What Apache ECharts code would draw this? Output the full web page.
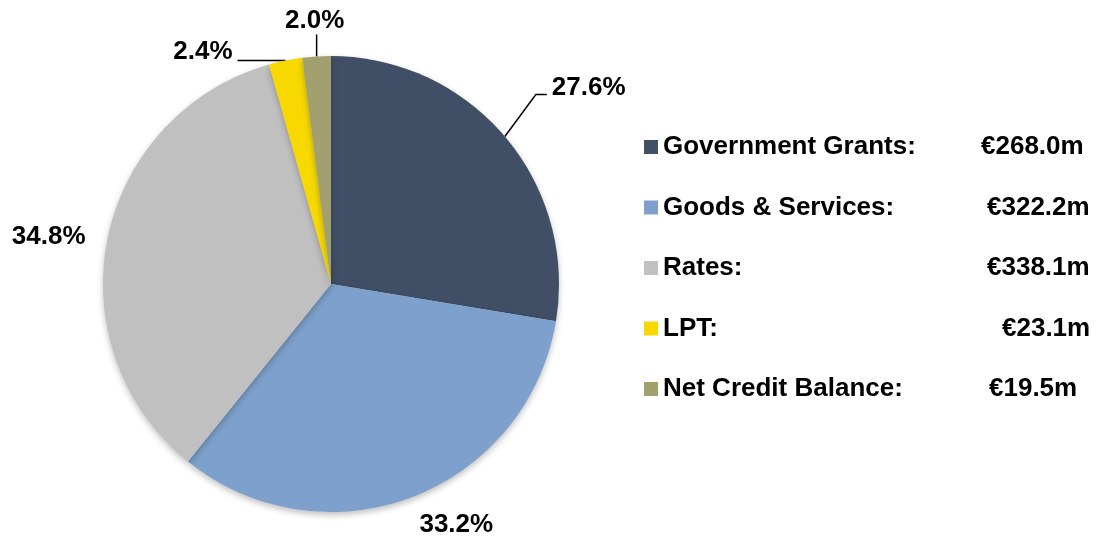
<!DOCTYPE html>
<html>
<head>
<meta charset="utf-8">
<script src="https://cdn.jsdelivr.net/npm/echarts@6/dist/echarts.min.js"></script>
<style>
html,body{margin:0;padding:0;background:#fff;}
#main{width:1101px;height:542px;}
</style>
</head>
<body>
<div id="main"></div>
<script>
// ---- data ----
const categories = ['Government Grants', 'Goods & Services', 'Rates', 'LPT', 'Net Credit Balance'];
const values = [268.0, 322.2, 338.1, 23.1, 19.5];          // € millions
const percentLabels = ['27.6%', '33.2%', '34.8%', '2.4%', '2.0%'];
const valueLabels = ['€268.0m', '€322.2m', '€338.1m', '€23.1m', '€19.5m'];

// ---- styles ----
const colors = ['#404f66', '#7da1cc', '#c0c0c0', '#f7d900', '#a3a070'];
const FONT = '"Liberation Sans", Arial, sans-serif';
// label placement relative to the slice edge point given by ECharts
const labelPlace = [
  { line: [[31, -42], [42, -42]], lbl: [47, -49], align: 'left' },
  { line: null, lbl: [44, 28], align: 'center' },
  { line: null, lbl: [-22, -2], align: 'right' },
  { line: [[-48, 0]], lbl: [-53, -9], align: 'right' },
  { line: [[0, -22]], lbl: [-2, -36], align: 'center' }
];
// legend name column widths per item
const nameWidths = [318, 324, 324, 339, 326];

const chart = echarts.init(document.getElementById('main'));
const rich = {};
nameWidths.forEach((w, i) => {
  rich['n' + i] = { width: w, fontSize: 26, fontWeight: 'bold', fontFamily: FONT, color: '#000' };
});
rich.v = { fontSize: 26, fontWeight: 'bold', fontFamily: FONT, color: '#000' };

chart.setOption({
  animation: false,
  backgroundColor: '#fff',
  color: colors,
  legend: {
    orient: 'vertical',
    left: 644,
    top: 132,
    padding: 0,
    itemWidth: 14,
    itemHeight: 14,
    itemGap: 30.5,
    icon: 'rect',
    selectedMode: false,
    textStyle: { fontSize: 26, fontWeight: 'bold', fontFamily: FONT, color: '#000', lineHeight: 30, rich: rich },
    formatter: function (name) {
      const i = categories.indexOf(name);
      return '{n' + i + '|' + name + ':}{v|' + valueLabels[i] + '}';
    },
    data: categories
  },
  series: [{
    type: 'pie',
    center: [331, 284],
    radius: 228,
    startAngle: 90,
    clockwise: true,
    avoidLabelOverlap: false,
    itemStyle: {
      shadowBlur: 6,
      shadowOffsetY: 3,
      shadowColor: 'rgba(0,0,0,0.25)'
    },
    label: {
      show: true,
      position: 'outside',
      fontSize: 26,
      fontWeight: 'bold',
      fontFamily: FONT,
      color: '#000',
      formatter: function (p) { return percentLabels[p.dataIndex]; }
    },
    labelLine: {
      show: true,
      length: 10,
      length2: 10,
      lineStyle: { color: '#000', width: 1.5 }
    },
    labelLayout: function (params) {
      const pl = labelPlace[params.dataIndex];
      const p0 = params.labelLinePoints[0];
      let linePts;
      if (pl.line) {
        linePts = [[p0[0], p0[1]]].concat(pl.line.map(d => [p0[0] + d[0], p0[1] + d[1]]));
        while (linePts.length < 3) linePts.push(linePts[linePts.length - 1].slice());
      } else {
        linePts = [[p0[0], p0[1]], [p0[0], p0[1]], [p0[0], p0[1]]];
      }
      return {
        x: p0[0] + pl.lbl[0],
        y: p0[1] + pl.lbl[1],
        align: pl.align,
        verticalAlign: 'middle',
        labelLinePoints: linePts
      };
    },
    data: categories.map((c, i) => ({
      name: c,
      value: values[i],
      labelLine: labelPlace[i].line ? undefined : { show: true, lineStyle: { opacity: 0 } }
    }))
  }]
});
</script>
</body>
</html>
